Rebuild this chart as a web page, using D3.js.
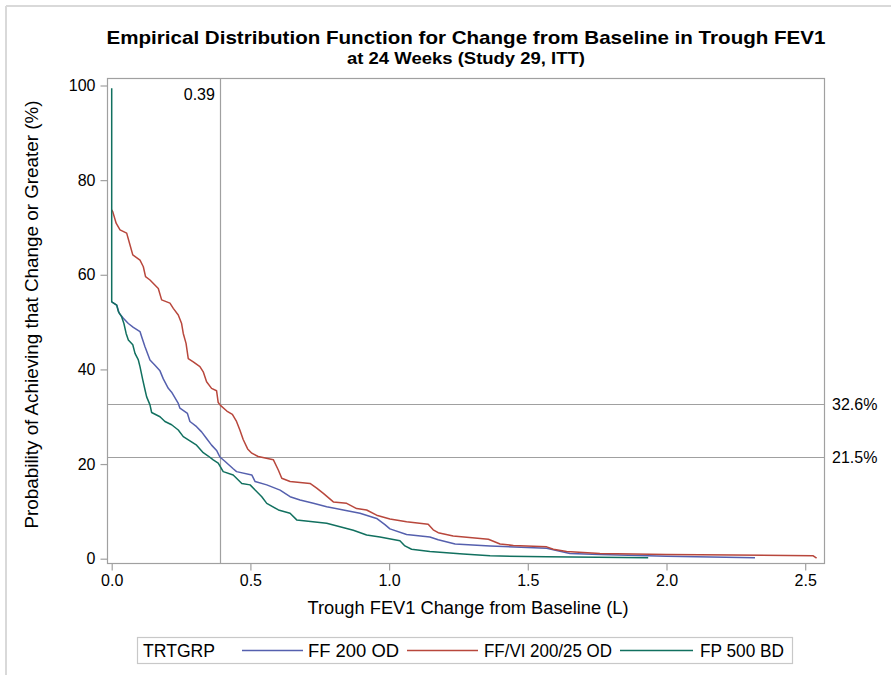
<!DOCTYPE html>
<html>
<head>
<meta charset="utf-8">
<script src="https://cdn.jsdelivr.net/npm/d3@7"></script>
<style>
  html, body { margin: 0; padding: 0; background: #ffffff; }
  svg { display: block; }
  text { font-family: "Liberation Sans", Arial, sans-serif; fill: #000; }
</style>
</head>
<body>
<div id="chart"></div>
<script>
// ---------------- DATA ----------------
const seriesNames = ["FF 200 OD", "FF/VI 200/25 OD", "FP 500 BD"];
const legendTitle = "TRTGRP";
const xTicks = [0.0, 0.5, 1.0, 1.5, 2.0, 2.5];
const yTicks = [0, 20, 40, 60, 80, 100];
const refX = 0.39;
const refY = [32.6, 21.5];

// [change from baseline (L), probability (%)]
const ff200 = [
  [0,54.3],[0.018,53.6],[0.027,51.9],[0.042,50.8],[0.060,49.7],[0.078,48.9],[0.102,48.0],
  [0.108,46.9],[0.120,44.8],[0.138,42.0],[0.156,40.9],[0.174,39.7],[0.186,38.0],[0.204,36.0],
  [0.216,35.2],[0.240,32.8],[0.246,31.8],[0.273,30.7],[0.282,29.0],[0.306,27.9],[0.324,26.8],
  [0.342,25.4],[0.360,24.0],[0.379,22.8],[0.390,21.5],[0.408,20.6],[0.438,19.0],[0.450,18.4],
  [0.505,17.7],[0.517,16.3],[0.559,15.6],[0.607,14.5],[0.643,13.1],[0.679,12.4],[0.727,11.7],
  [0.775,11.0],[0.835,10.3],[0.895,9.6],[0.955,8.5],[0.985,7.2],[1.003,6.3],[1.063,5.1],
  [1.147,4.6],[1.177,4.0],[1.238,3.1],[1.364,2.7],[1.568,2.2],[1.652,1.1],[1.760,0.9],
  [2.000,0.5],[2.319,0.2]
];
const ffvi = [
  [0,73.7],[0.004,73.3],[0.016,70.9],[0.030,69.5],[0.054,68.8],[0.066,66.3],[0.076,64.2],
  [0.102,63.1],[0.114,61.7],[0.122,59.6],[0.138,58.9],[0.168,57.1],[0.180,54.7],[0.210,54.0],
  [0.222,52.9],[0.240,51.5],[0.252,49.7],[0.258,47.6],[0.268,45.5],[0.276,42.3],[0.294,41.6],
  [0.318,40.6],[0.330,39.5],[0.342,37.4],[0.360,36.0],[0.378,35.5],[0.384,33.0],[0.392,32.4],
  [0.415,31.2],[0.435,30.5],[0.450,29.0],[0.462,27.2],[0.474,25.2],[0.490,23.2],[0.505,22.3],
  [0.528,21.6],[0.583,20.9],[0.601,18.7],[0.613,17.0],[0.643,16.3],[0.715,15.9],[0.739,14.9],
  [0.763,13.8],[0.799,12.0],[0.847,11.7],[0.883,10.6],[0.919,10.3],[0.955,9.2],[1.003,8.4],
  [1.063,7.8],[1.141,7.3],[1.159,6.1],[1.177,5.5],[1.231,4.8],[1.358,4.1],[1.400,3.1],
  [1.448,2.8],[1.568,2.5],[1.592,2.0],[1.640,1.5],[1.760,1.1],[2.000,0.9],[2.240,0.8],
  [2.529,0.6],[2.541,0.1]
];
const fp500 = [
  [0,99.4],[0,54.3],[0.018,53.6],[0.024,52.2],[0.036,51.1],[0.044,49.7],[0.052,47.6],
  [0.060,46.2],[0.076,45.2],[0.084,43.4],[0.096,42.0],[0.102,40.6],[0.112,37.8],[0.120,35.7],
  [0.126,34.2],[0.138,32.5],[0.144,30.9],[0.174,30.0],[0.192,29.0],[0.216,28.3],[0.240,27.2],
  [0.258,25.8],[0.282,24.9],[0.306,24.0],[0.330,22.4],[0.348,21.7],[0.366,20.9],[0.384,20.2],
  [0.402,18.4],[0.438,17.7],[0.469,15.9],[0.499,15.6],[0.517,14.5],[0.541,13.1],[0.559,11.7],
  [0.601,10.3],[0.643,9.6],[0.667,8.2],[0.775,7.5],[0.847,6.4],[0.871,6.0],[0.919,5.0],
  [0.967,4.6],[1.039,3.8],[1.057,2.7],[1.081,2.0],[1.147,1.5],[1.267,1.0],[1.364,0.6],
  [1.568,0.4],[1.934,0.2]
];
const seriesData = [ff200, ffvi, fp500];
const seriesColors = ["#5560ae", "#b8473c", "#11705f"];

// ---------------- LAYOUT ----------------
const W = 891, H = 675;
const plot = { left: 107, right: 824, top: 78, bottom: 563 };
const FONT = "Liberation Sans, Arial, sans-serif";
const svg = d3.select("#chart").append("svg").attr("width", W).attr("height", H);

// outer frame lines (top & left)
svg.append("line").attr("x1", 6).attr("x2", W).attr("y1", 6).attr("y2", 6)
  .attr("stroke", "#d9d9d9").attr("stroke-width", 2);
svg.append("line").attr("x1", 6).attr("x2", 6).attr("y1", 6).attr("y2", H)
  .attr("stroke", "#d9d9d9").attr("stroke-width", 2);

const x = d3.scaleLinear().domain([0, 2.5]).range([plot.left + 4.7, plot.right - 18.8]);
const y = d3.scaleLinear().domain([0, 100]).range([plot.bottom - 4.3, plot.top + 7.5]);

// Titles
svg.append("text").attr("x", 466).attr("y", 44).attr("text-anchor", "middle")
  .attr("font-size", 19).attr("font-weight", "bold")
  .attr("textLength", 719).attr("lengthAdjust", "spacingAndGlyphs")
  .text("Empirical Distribution Function for Change from Baseline in Trough FEV1");
svg.append("text").attr("x", 466).attr("y", 64).attr("text-anchor", "middle")
  .attr("font-size", 16).attr("font-weight", "bold")
  .attr("textLength", 238).attr("lengthAdjust", "spacingAndGlyphs")
  .text("at 24 Weeks (Study 29, ITT)");

// Reference lines
const g = svg.append("g");
refY.forEach(v => {
  g.append("line").attr("x1", plot.left).attr("x2", plot.right)
    .attr("y1", Math.round(y(v)) + 0.5).attr("y2", Math.round(y(v)) + 0.5)
    .attr("stroke", "#a0a0a0").attr("stroke-width", 1.2);
  svg.append("text").attr("x", plot.right + 8).attr("y", y(v) + 6)
    .attr("font-size", 16).text(v.toFixed(1) + "%");
});
g.append("line").attr("x1", Math.round(x(refX)) + 0.5).attr("x2", Math.round(x(refX)) + 0.5)
  .attr("y1", plot.top).attr("y2", plot.bottom)
  .attr("stroke", "#a0a0a0").attr("stroke-width", 1.2);
svg.append("text").attr("x", x(refX) - 5).attr("y", plot.top + 22)
  .attr("text-anchor", "end").attr("font-size", 16).text(refX.toFixed(2));

// Series
const line = d3.line().x(d => x(d[0])).y(d => y(d[1]));
seriesData.forEach((s, i) => {
  svg.append("path").datum(s).attr("d", line)
    .attr("fill", "none").attr("stroke", seriesColors[i])
    .attr("stroke-width", 1.5).attr("stroke-linejoin", "round");
});

// Frame
svg.append("rect").attr("x", plot.left + 0.5).attr("y", plot.top + 0.5)
  .attr("width", plot.right - plot.left).attr("height", plot.bottom - plot.top)
  .attr("fill", "none").attr("stroke", "#a0a0a0").attr("stroke-width", 1.2);

// Axes
const xAxis = d3.axisBottom(x).tickValues(xTicks).tickFormat(d3.format(".1f")).tickSize(7).tickPadding(4);
const gx = svg.append("g").attr("transform", `translate(0,${plot.bottom + 0.5})`).call(xAxis);
gx.select(".domain").remove();
gx.selectAll(".tick line").attr("stroke", "#a0a0a0").attr("stroke-width", 1.2);
gx.selectAll(".tick text").attr("font-size", 16).attr("font-family", FONT).attr("fill", "#000");

const yAxis = d3.axisLeft(y).tickValues(yTicks).tickFormat(d3.format("d")).tickSize(7).tickPadding(5);
const gy = svg.append("g").attr("transform", `translate(${plot.left + 0.5},0)`).call(yAxis);
gy.select(".domain").remove();
gy.selectAll(".tick line").attr("stroke", "#a0a0a0").attr("stroke-width", 1.2);
gy.selectAll(".tick text").attr("font-size", 16).attr("font-family", FONT).attr("fill", "#000");

// Axis labels
svg.append("text").attr("x", 468).attr("y", 614).attr("text-anchor", "middle")
  .attr("font-size", 18).attr("textLength", 321).attr("lengthAdjust", "spacingAndGlyphs")
  .text("Trough FEV1 Change from Baseline (L)");
svg.append("text").attr("transform", `translate(38,${(plot.top + plot.bottom) / 2 - 6}) rotate(-90)`)
  .attr("text-anchor", "middle").attr("font-size", 18)
  .attr("textLength", 428).attr("lengthAdjust", "spacingAndGlyphs")
  .text("Probability of Achieving that Change or Greater (%)");

// Legend
const lg = svg.append("g");
lg.append("rect").attr("x", 137.5).attr("y", 637.5).attr("width", 655).attr("height", 26)
  .attr("fill", "none").attr("stroke", "#c8c8c8").attr("stroke-width", 1.2);
lg.append("text").attr("x", 143).attr("y", 657).attr("font-size", 18)
  .attr("textLength", 72).attr("lengthAdjust", "spacingAndGlyphs").text(legendTitle);
const legItems = [
  { line: [242, 303], text: 308, w: 91 },
  { line: [407, 478], text: 484, w: 128 },
  { line: [620, 693], text: 700, w: 84 }
];
legItems.forEach((it, i) => {
  lg.append("line").attr("x1", it.line[0]).attr("x2", it.line[1])
    .attr("y1", 650.5).attr("y2", 650.5)
    .attr("stroke", seriesColors[i]).attr("stroke-width", 1.5);
  lg.append("text").attr("x", it.text).attr("y", 657).attr("font-size", 18)
    .attr("textLength", it.w).attr("lengthAdjust", "spacingAndGlyphs").text(seriesNames[i]);
});
</script>
</body>
</html>
